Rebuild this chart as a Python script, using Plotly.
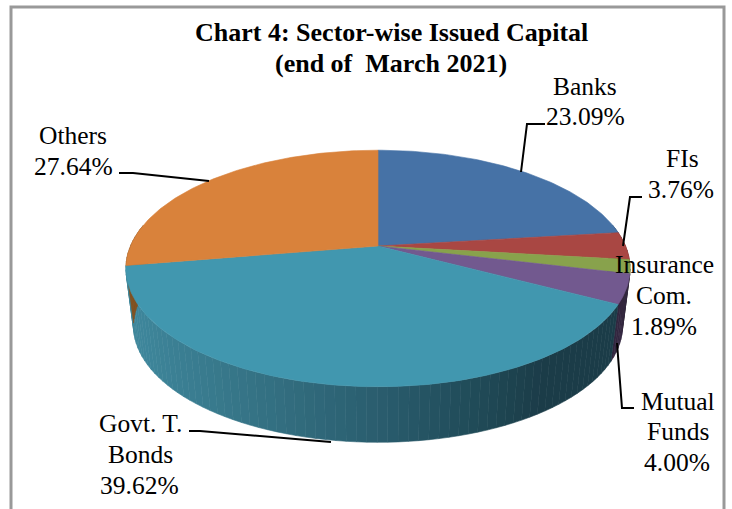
import math
import plotly.graph_objects as go

sectors = ["Banks", "FIs", "Insurance Com.", "Mutual Funds", "Govt. T. Bonds", "Others"]
shares = [23.09, 3.76, 1.89, 4.00, 39.62, 27.64]
top_colors = ["#4672A6", "#A94743", "#88A24C", "#72598F", "#4197AF", "#D9823B"]
side_colors = ["#2A4565", "#662B29", "#526230", "#33263F", None, "#83501F"]
title_lines = ["Chart 4: Sector-wise Issued Capital", "(end of\u00a0 March 2021)"]
label_lines = [
    ("Banks", 585, 86), ("23.09%", 585, 116),
    ("FIs", 682, 158), ("3.76%", 681, 189),
    ("Insurance", 664, 264), ("Com.", 664, 295), ("1.89%", 664, 326),
    ("Mutual", 678, 401), ("Funds", 678, 431), ("4.00%", 677, 462),
    ("Govt. T.", 140, 423), ("Bonds", 140, 454), ("39.62%", 139, 485),
    ("Others", 73, 135), ("27.64%", 73, 166),
]
leaders = [
    [(545, 124), (527, 124), (521, 172)],
    [(642, 197), (630, 197), (623, 246)],
    [(617, 343), (622, 408), (634, 408)],
    [(189, 431), (200, 431), (331, 442)],
    [(119, 173), (133, 173), (209, 181)],
]
gradient_stops = [(135, (62, 134, 155)), (250, (53, 115, 133)), (378, (42, 93, 110)),
                  (480, (32, 74, 87)), (545, (27, 60, 72)), (640, (27, 60, 72))]

CX, K = 378.0, 0.19


def project(theta, y0, a, r):
    u, v = math.sin(theta), -math.cos(theta)
    w = 1 - K * v
    return CX + r * u / w, y0 + a * v / w


def top(theta):
    return project(theta, 246, 114, 247.5)


def bottom(theta):
    return project(theta, 304, 112, 240)


def gradient(x):
    for (x0, c0), (x1, c1) in zip(gradient_stops, gradient_stops[1:]):
        if x <= x1:
            t = max(0.0, (x - x0) / (x1 - x0))
            return "rgb(%d,%d,%d)" % tuple(round(p + (q - p) * t) for p, q in zip(c0, c1))
    return "rgb(27,60,72)"


def poly(xs, ys, color):
    return go.Scatter(x=xs, y=ys, mode="lines", fill="toself", fillcolor=color,
                      line=dict(color=color, width=0.6), hoverinfo="skip", showlegend=False)


total = sum(shares)
edges = [0.0]
for s in shares:
    edges.append(edges[-1] + s / total * 2 * math.pi)

side_traces, top_traces = [], []
for i, name in enumerate(sectors):
    a0, a1 = edges[i], edges[i + 1]
    # visible wall: front part of the disc, split in strips for the shading
    n = max(2, int((a1 - a0) / math.radians(2)))
    for j in range(n):
        t0 = a0 + (a1 - a0) * j / n
        t1 = a0 + (a1 - a0) * (j + 1) / n
        if -math.cos((t0 + t1) / 2) < -0.2:
            continue
        p0, p1, q1, q0 = top(t0), top(t1), bottom(t1), bottom(t0)
        color = side_colors[i] or gradient((p0[0] + p1[0]) / 2)
        side_traces.append(poly([p0[0], p1[0], q1[0], q0[0], p0[0]],
                                [p0[1], p1[1], q1[1], q0[1], p0[1]], color))
    m = max(3, int((a1 - a0) / math.radians(1)))
    arc = [top(a0 + (a1 - a0) * j / m) for j in range(m + 1)]
    xs = [CX] + [p[0] for p in arc] + [CX]
    ys = [246] + [p[1] for p in arc] + [246]
    top_traces.append(poly(xs, ys, top_colors[i]))

fig = go.Figure(side_traces + top_traces)

shapes = [dict(type="rect", x0=11, y0=7, x1=724, y1=530, line=dict(color="#999999", width=3), layer="below")]
for pts in leaders:
    path = "M " + " L ".join(f"{x},{y}" for x, y in pts)
    shapes.append(dict(type="path", path=path, line=dict(color="black", width=2)))

annotations = []
for line, y in zip(title_lines, (32, 63)):
    annotations.append(dict(x=391, y=y, text="<b>%s</b>" % line, showarrow=False,
                            font=dict(family="Liberation Serif", size=26, color="black")))
for text, x, y in label_lines:
    annotations.append(dict(x=x, y=y, text=text, showarrow=False,
                            font=dict(family="Liberation Serif", size=25.5, color="black")))

fig.update_layout(
    width=732, height=509, margin=dict(l=0, r=0, t=0, b=0),
    paper_bgcolor="white", plot_bgcolor="white", showlegend=False,
    xaxis=dict(range=[0, 732], visible=False, fixedrange=True),
    yaxis=dict(range=[509, 0], visible=False, fixedrange=True),
    shapes=shapes, annotations=annotations,
)
fig.write_html("out.html", config=dict(displayModeBar=False),
               post_script="document.body.style.margin='0';document.body.style.overflow='hidden';")
